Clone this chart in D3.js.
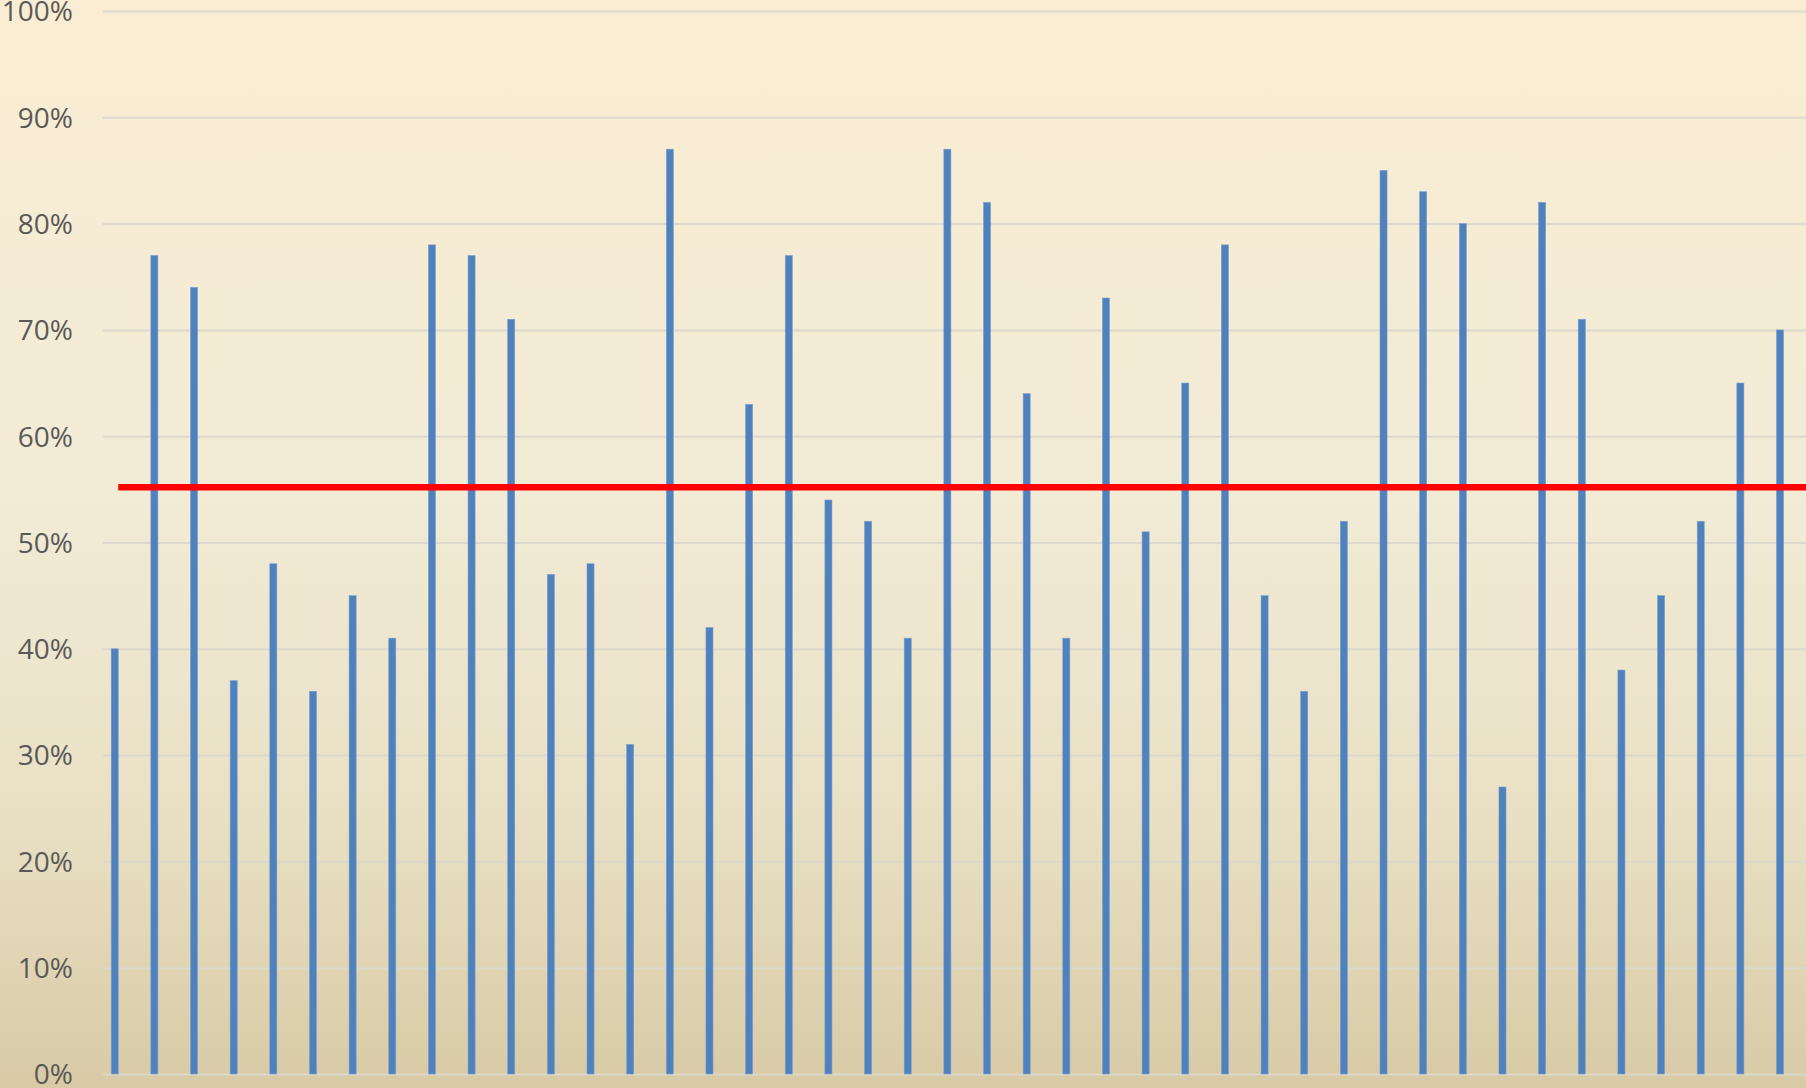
<!DOCTYPE html>
<html>
<head>
<meta charset="utf-8">
<script src="https://cdn.jsdelivr.net/npm/d3@7"></script>
<style>
  html, body { margin: 0; padding: 0; background: #f5ead0; }
  svg { display: block; }
</style>
</head>
<body>
<svg id="chart" width="1806" height="1088"></svg>
<script>
// Share per item (0..1), one bar each
const values = [
  0.40, 0.77, 0.74, 0.37, 0.48, 0.36, 0.45, 0.41, 0.78, 0.77,
  0.71, 0.47, 0.48, 0.31, 0.87, 0.42, 0.63, 0.77, 0.54, 0.52,
  0.41, 0.87, 0.82, 0.64, 0.41, 0.73, 0.51, 0.65, 0.78, 0.45,
  0.36, 0.52, 0.85, 0.83, 0.80, 0.27, 0.82, 0.71, 0.38, 0.45,
  0.52, 0.65, 0.70
];
const categories = values.map((_, i) => i + 1);

// Reference level drawn as the red horizontal line
const targetLevel = [0.552];

// Y axis ticks
const yTicks = [0, 0.1, 0.2, 0.3, 0.4, 0.5, 0.6, 0.7, 0.8, 0.9, 1.0];

const W = 1806, H = 1088;
const svg = d3.select("#chart");

// Background gradient
const defs = svg.append("defs");
const grad = defs.append("linearGradient")
  .attr("id", "bg").attr("x1", 0).attr("y1", 0).attr("x2", 0).attr("y2", 1);
grad.append("stop").attr("offset", "0%").attr("stop-color", "#faedd3");
grad.append("stop").attr("offset", "45%").attr("stop-color", "#f2ebd6");
grad.append("stop").attr("offset", "75%").attr("stop-color", "#e9e0c4");
grad.append("stop").attr("offset", "100%").attr("stop-color", "#d8caa5");
svg.append("rect").attr("width", W).attr("height", H).attr("fill", "url(#bg)");

const plotLeft = 103;
const y = d3.scaleLinear().domain([0, 1]).range([1074, 11]);

const x = d3.scaleBand()
  .domain(categories)
  .range([94.9, 94.9 + 39.65 * categories.length])
  .paddingInner(0.822)
  .paddingOuter(0.411);

// Gridlines and tick labels
const yAxis = d3.axisLeft(y)
  .tickValues(yTicks)
  .tickFormat(d3.format(".0%"))
  .tickSize(-(W - plotLeft))
  .tickPadding(30);

const gAxis = svg.append("g")
  .attr("transform", `translate(${plotLeft},0)`)
  .call(yAxis);
gAxis.select(".domain").remove();
gAxis.selectAll(".tick line")
  .attr("stroke", "#dcd8cc")
  .attr("stroke-width", 2);
gAxis.selectAll(".tick text")
  .attr("fill", "#595959")
  .attr("font-family", "'Open Sans', 'Noto Sans', sans-serif")
  .attr("font-size", 28)
  .attr("dy", "0.35em");

// Bars
svg.append("g")
  .selectAll("rect")
  .data(values)
  .join("rect")
  .attr("x", (d, i) => x(categories[i]))
  .attr("width", x.bandwidth())
  .attr("y", d => y(d))
  .attr("height", d => y(0) - y(d))
  .attr("fill", "#4f81bd")
  .attr("stroke", "#7a9fcf")
  .attr("stroke-width", 0.6);

// Reference line
const lineStart = x(categories[0]) + x.bandwidth();
svg.append("g")
  .selectAll("line")
  .data(targetLevel)
  .join("line")
  .attr("x1", lineStart)
  .attr("x2", W)
  .attr("y1", d => y(d))
  .attr("y2", d => y(d))
  .attr("stroke", "#ff0000")
  .attr("stroke-width", 6.5);
</script>
</body>
</html>
